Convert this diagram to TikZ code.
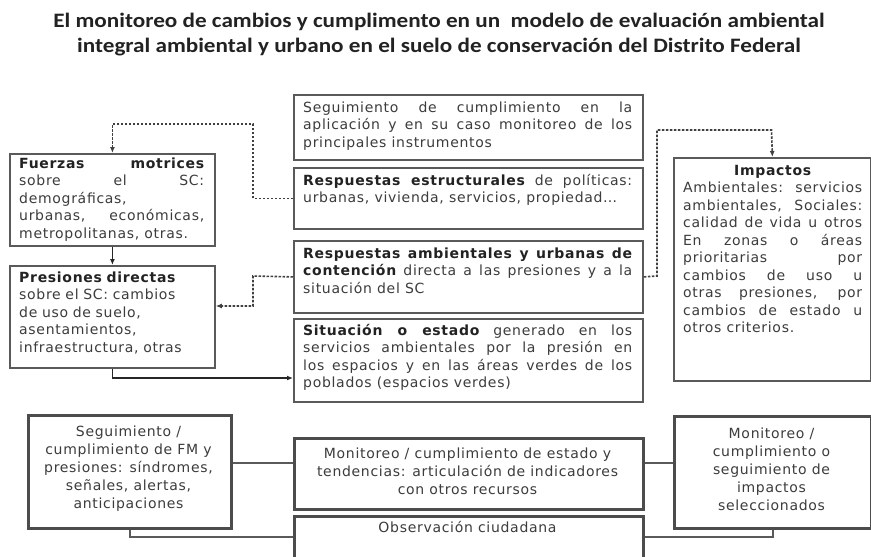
\documentclass[tikz,border=0pt]{standalone}
\usepackage{fontspec}
\setmainfont[LetterSpace=5]{DejaVu Sans}
\newfontfamily\titlefont{Carlito}
\usetikzlibrary{arrows.meta,calc}
\definecolor{bordergray}{HTML}{5A5A5A}
\definecolor{textgray}{HTML}{3C3C3C}
\definecolor{boldgray}{HTML}{222222}
\newcommand{\Tst}{\rule{0pt}{11pt}}
\newcommand{\bt}[1]{\textbf{\color{boldgray}#1}}
\begin{document}
\begin{tikzpicture}[x=1pt,y=1pt,
  box/.style={draw=bordergray, line width=1.8pt, anchor=north west, inner sep=0pt, fill=white},
  bbox/.style={draw=bordergray!85!black, line width=2.6pt, anchor=north west, inner sep=0pt, fill=white},
  txt/.style={anchor=north west, inner sep=0pt, text=textgray, align=justify,
    font=\fontsize{14}{17.5}\selectfont,
    execute at begin node={\hyphenpenalty=10000\exhyphenpenalty=10000\tolerance=9999\emergencystretch=10pt}},
  ctxt/.style={inner sep=0pt, text=textgray, align=center, font=\fontsize{14}{18}\selectfont},
  titlest/.style={inner sep=0pt, text=boldgray, align=center, font=\titlefont\bfseries\fontsize{20.5}{25}\selectfont},
  conn/.style={line width=1.2pt, draw=black!85, -{Latex[length=6pt,width=5pt]}},
  dotc/.style={line width=1.6pt, draw=black!75, dash pattern=on 2.5pt off 1.5pt, -{Latex[length=6pt,width=5pt]}},
  plain/.style={line width=1.4pt, draw=bordergray}
]
\useasboundingbox (0,0) rectangle (871,-557);

% title
\node[titlest] (title) at (439,-35) {\scalebox{1.13}[1]{El monitoreo de cambios y cumplimento en un\ \ modelo de evaluación ambiental}\\\scalebox{1.13}[1]{integral ambiental y urbano en el suelo de conservación del Distrito Federal}};

% central column boxes
\node[box, minimum width=349pt, minimum height=65pt] (seg) at (293,-94) {};
\node[txt, text width=329pt] (segT) at (303,-101) {\Tst Seguimiento de cumplimiento en la\linebreak aplicación y en su caso monitoreo de los\linebreak principales instrumentos};

\node[box, minimum width=349pt, minimum height=61pt] (rest) at (293,-167) {};
\node[txt, text width=329pt] (restT) at (303,-174) {\Tst\bt{Respuestas estructurales} de políticas:\linebreak urbanas, vivienda, servicios, propiedad…};

\node[box, minimum width=349pt, minimum height=72pt] (ramb) at (293,-240) {};
\node[txt, text width=329pt] (rambT) at (303,-247) {\Tst\bt{Respuestas ambientales y urbanas de}\linebreak \bt{contención} directa a las presiones y a la\linebreak situación del SC};

\node[box, minimum width=349pt, minimum height=83pt] (sit) at (293,-318) {};
\node[txt, text width=329pt] (sitT) at (303,-324) {\Tst\bt{Situación o estado} generado en los\linebreak servicios ambientales por la presión en\linebreak los espacios y en las áreas verdes de los\linebreak poblados (espacios verdes)};

% left column
\node[box, minimum width=205pt, minimum height=92pt] (fm) at (9,-153) {};
\node[txt, text width=185pt] (fmT) at (19,-157) {\Tst\bt{Fuerzas motrices}\linebreak sobre el SC:\linebreak demográficas,\\ urbanas, económicas,\linebreak metropolitanas, otras.};

\node[box, minimum width=205pt, minimum height=102pt] (pres) at (9,-265) {};
\node[txt, text width=185pt, align=left] (presT) at (19,-271) {\Tst\bt{Presiones directas}\\ sobre el SC: cambios\\ de uso de suelo,\\ asentamientos,\\ infraestructura, otras};

% right column
\node[box, minimum width=197pt, minimum height=223pt] (imp) at (673,-157) {};
\node[txt, text width=179pt] (impT) at (683,-164) {{\centering\Tst\bt{Impactos}\par}Ambientales: servicios\linebreak ambientales, Sociales:\linebreak calidad de vida u otros\linebreak En zonas o áreas\linebreak prioritarias por\linebreak cambios de uso u\linebreak otras presiones, por\linebreak cambios de estado u\linebreak otros criterios.};

% bottom row
\node[bbox, minimum width=203pt, minimum height=113pt] (sfm) at (27,-414) {};
\node[ctxt] (sfmT) at (128.5,-469) {Seguimiento /\\cumplimiento de FM y\\presiones: síndromes,\\señales, alertas,\\anticipaciones};

\node[bbox, minimum width=349pt, minimum height=71pt] (mon) at (293,-437) {};
\node[ctxt] (monT) at (467.5,-471) {Monitoreo / cumplimiento de estado y\\tendencias: articulación de indicadores\\con otros recursos};

\node[bbox, minimum width=197pt, minimum height=112pt] (mimp) at (673,-415) {};
\node[ctxt] (mimpT) at (771.5,-469) {Monitoreo /\\cumplimiento o\\seguimiento de\\impactos\\seleccionados};

\node[bbox, minimum width=349pt, minimum height=80pt] (obs) at (293,-515) {};
\node[ctxt, anchor=base] (obsT) at (467.5,-532) {Observación ciudadana};

% solid connectors
\draw[conn] (fm.south) -- (pres.north);
\draw[conn] (pres.south) |- (sit.west |- 0,-378);

% dotted connectors
\draw[dotc] (rest.west) -| (253,-124) -| (fm.north);
\draw[dotc] (ramb.west) -- (253,-276) |- (pres.east |- 0,-306);
\draw[dotc] (ramb.east) -- (657,-276) |- (771.5,-130) -- (imp.north);

% bottom connectors
\draw[plain] (sfm.east |- 0,-463) -- (mon.west |- 0,-463);
\draw[plain] (mon.east |- 0,-463) -- (mimp.west |- 0,-463);
\draw[plain] (sfm.south) |- (obs.west |- 0,-537);
\draw[plain] (mimp.south) |- (obs.east |- 0,-537);
\end{tikzpicture}
\end{document}
